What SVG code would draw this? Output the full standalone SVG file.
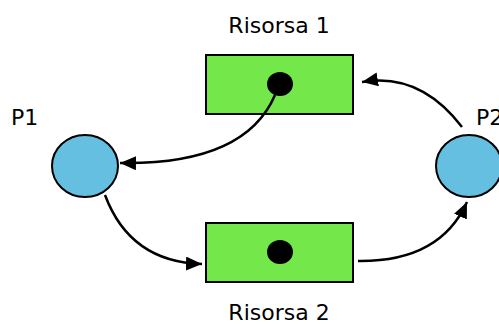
<svg xmlns="http://www.w3.org/2000/svg" width="499" height="325" viewBox="0 0 499 325">
<style>
.res{fill:#74E84A;stroke:#000;stroke-width:2}
.place{fill:#64BFE1;stroke:#000;stroke-width:2}
.tok{fill:#000}
.lbl{font-family:"DejaVu Sans",sans-serif;font-size:22px;fill:#000}
.arc{fill:none;stroke:#000;stroke-width:2.5}
</style>
<defs>
<marker id="ah" markerUnits="userSpaceOnUse" markerWidth="18" markerHeight="14" refX="16" refY="7" orient="auto">
<path d="M0,0 L16,7 L0,14 z" fill="#000"/>
</marker>
</defs>
<g id="risorsa1">
<rect class="res" x="206" y="55" width="147" height="59"/>
<ellipse class="tok" cx="280" cy="84" rx="13" ry="12"/>
<text class="lbl" x="279" y="33" text-anchor="middle">Risorsa 1</text>
</g>
<g id="risorsa2">
<rect class="res" x="206" y="223" width="147" height="59"/>
<ellipse class="tok" cx="280" cy="252" rx="13" ry="12"/>
<text class="lbl" x="279" y="320" text-anchor="middle">Risorsa 2</text>
</g>
<g id="p1">
<ellipse class="place" cx="85" cy="166" rx="33" ry="31"/>
<text class="lbl" x="11" y="125">P1</text>
</g>
<g id="p2">
<ellipse class="place" cx="469" cy="166" rx="33" ry="31"/>
<text class="lbl" x="476" y="125">P2</text>
</g>
<g id="connectors">
<path class="arc" d="M275,95 Q245,165 120,163" marker-end="url(#ah)"/>
<path class="arc" d="M462,127 Q420,72 362,82" marker-end="url(#ah)"/>
<path class="arc" d="M105,195 Q130,262 202,264" marker-end="url(#ah)"/>
<path class="arc" d="M358,261 Q440,262 467,202" marker-end="url(#ah)"/>
</g>
</svg>
